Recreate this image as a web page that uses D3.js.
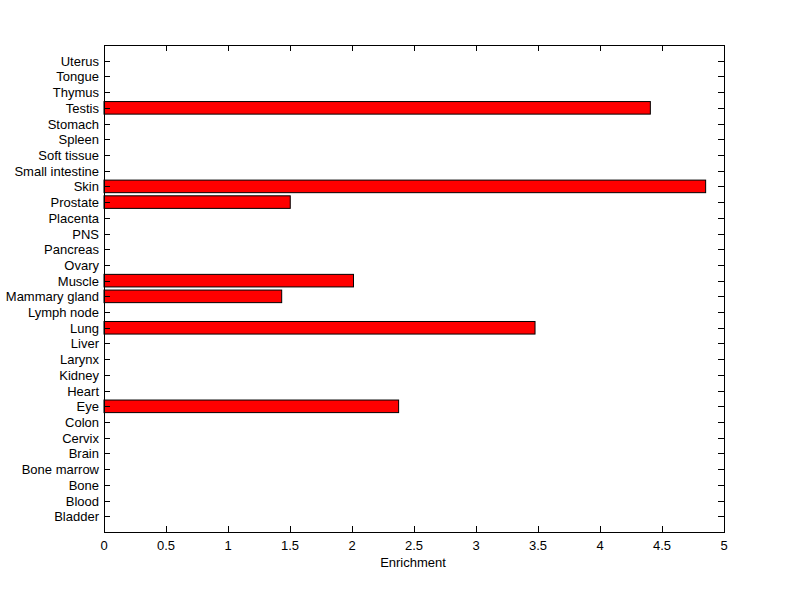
<!DOCTYPE html>
<html><head><meta charset="utf-8">
<script src="https://cdn.jsdelivr.net/npm/d3@7"></script>
<style>body{margin:0;background:#fff}text{font-family:"Liberation Sans",Arial,sans-serif;font-size:13px;fill:#000}</style>
</head><body><svg id="c" width="800" height="599"></svg>
<script>
const categories=["Bladder","Blood","Bone","Bone marrow","Brain","Cervix","Colon","Eye","Heart","Kidney","Larynx","Liver","Lung","Lymph node","Mammary gland","Muscle","Ovary","Pancreas","PNS","Placenta","Prostate","Skin","Small intestine","Soft tissue","Spleen","Stomach","Testis","Thymus","Tongue","Uterus"];
const values=[0,0,0,0,0,0,0,2.376,0,0,0,0,3.476,0,1.433,2.012,0,0,0,0,1.502,4.852,0,0,0,0,4.406,0,0,0];
const xTicks=[0,0.5,1,1.5,2,2.5,3,3.5,4,4.5,5];
const xLabel="Enrichment";

const L=104,R=724,T=45,B=532;
const svg=d3.select("#c");
const x=d3.scaleLinear().domain([0,5]).range([L,R]);
const y=d3.scaleLinear().domain([0,categories.length+1]).range([B,T]);
const bh=(y(0)-y(1))*0.8;
const g=svg.append("g");
g.selectAll("rect.bar").data(values.map((v,i)=>({v,i})).filter(d=>d.v>0)).enter().append("rect")
 .attr("x",x(0)).attr("y",d=>y(d.i+1)-bh/2).attr("width",d=>x(d.v)-x(0)).attr("height",bh)
 .attr("fill","#ff0000").attr("stroke","#000").attr("stroke-width",1);
svg.append("rect").attr("x",L+0.5).attr("y",T+0.5).attr("width",R-L).attr("height",B-T).attr("fill","none").attr("stroke","#000");
const tl=6;
xTicks.forEach(t=>{
  const px=Math.round(x(t))+0.5;
  svg.append("line").attr("x1",px).attr("x2",px).attr("y1",B).attr("y2",B-tl).attr("stroke","#000");
  svg.append("line").attr("x1",px).attr("x2",px).attr("y1",T).attr("y2",T+tl).attr("stroke","#000");
  svg.append("text").attr("x",Math.round(x(t))).attr("y",B+18).attr("text-anchor","middle").text(t);
});
categories.forEach((c,i)=>{
  const py=Math.round(y(i+1))+0.5;
  svg.append("line").attr("x1",L).attr("x2",L+tl).attr("y1",py).attr("y2",py).attr("stroke","#000");
  svg.append("line").attr("x1",R).attr("x2",R-tl).attr("y1",py).attr("y2",py).attr("stroke","#000");
  svg.append("text").attr("x",L-5).attr("y",py+4.5).attr("text-anchor","end").text(c);
});
svg.append("text").attr("x",413).attr("y",B+35).attr("text-anchor","middle").text(xLabel);
</script></body></html>
